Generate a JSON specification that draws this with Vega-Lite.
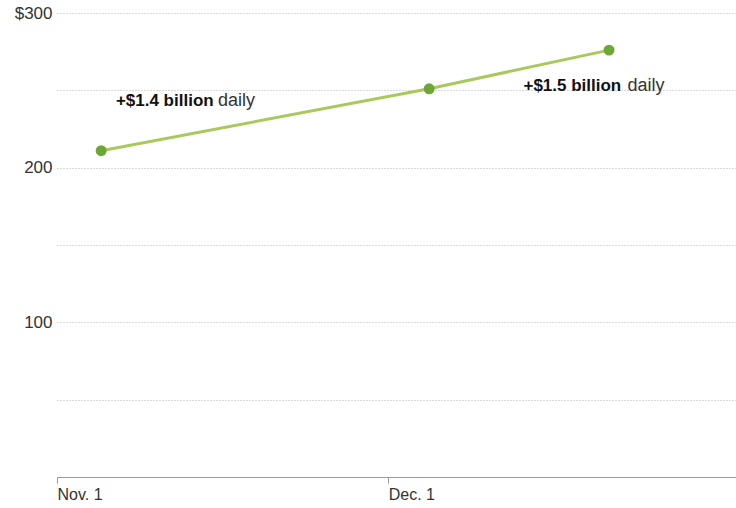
{
  "$schema": "https://vega.github.io/schema/vega-lite/v6.json",
  "width": 679,
  "height": 464,
  "autosize": "none",
  "padding": {"left": 57, "top": 13, "right": 0, "bottom": 31},
  "background": "white",
  "config": {"view": {"stroke": null}, "font": "Liberation Sans"},
  "datasets": {
    "points": [
      {"date": "2013-11-05T00:00:00Z", "value": 211},
      {"date": "2013-12-04T17:00:00Z", "value": 251},
      {"date": "2013-12-21T00:00:00Z", "value": 276}
    ],
    "bold": [
      {"date": "2013-11-06T08:00:00Z", "value": 243, "text": "+$1.4 billion"},
      {"date": "2013-12-13T06:00:00Z", "value": 253, "text": "+$1.5 billion"}
    ],
    "plain": [
      {"date": "2013-11-15T14:00:00Z", "value": 243, "text": "daily"},
      {"date": "2013-12-22T16:00:00Z", "value": 253, "text": "daily"}
    ]
  },
  "layer": [
    {
      "data": {"name": "points"},
      "mark": {"type": "line", "color": "#a9c95c", "strokeWidth": 3},
      "encoding": {
        "x": {
          "field": "date", "type": "temporal",
          "scale": {"type": "utc", "domain": [1383264000000, 1388577600000]},
          "axis": {
            "values": [1383264000000, 1385856000000],
            "labelExpr": "datum.value < 1385000000000 ? 'Nov. 1' : 'Dec. 1'",
            "title": null, "grid": false,
            "domainColor": "#999", "tickColor": "#999", "tickSize": 6,
            "labelAlign": "left", "labelFontSize": 16, "labelColor": "#333",
            "labelPadding": 3, "labelFont": "Liberation Sans"
          }
        },
        "y": {
          "field": "value", "type": "quantitative",
          "scale": {"domain": [0, 300], "nice": false},
          "axis": {
            "values": [50, 100, 150, 200, 250, 300],
            "labelExpr": "datum.value == 300 ? '$300' : (datum.value % 100 == 0 ? datum.label : '')",
            "title": null, "domain": false, "ticks": false,
            "gridColor": "#b5b5b5", "gridDash": [1, 2], "gridWidth": 1,
            "labelFontSize": 17, "labelColor": "#333", "labelPadding": 5,
            "labelFont": "Liberation Sans"
          }
        }
      }
    },
    {
      "data": {"name": "points"},
      "mark": {"type": "point", "filled": true, "color": "#6fa638", "size": 120, "opacity": 1},
      "encoding": {
        "x": {"field": "date", "type": "temporal"},
        "y": {"field": "value", "type": "quantitative"}
      }
    },
    {
      "data": {"name": "bold"},
      "mark": {"type": "text", "align": "left", "baseline": "middle", "fontWeight": "bold", "fontSize": 17, "color": "#111"},
      "encoding": {
        "x": {"field": "date", "type": "temporal"},
        "y": {"field": "value", "type": "quantitative"},
        "text": {"field": "text"}
      }
    },
    {
      "data": {"name": "plain"},
      "mark": {"type": "text", "align": "left", "baseline": "middle", "fontSize": 18, "color": "#333"},
      "encoding": {
        "x": {"field": "date", "type": "temporal"},
        "y": {"field": "value", "type": "quantitative"},
        "text": {"field": "text"}
      }
    }
  ]
}
